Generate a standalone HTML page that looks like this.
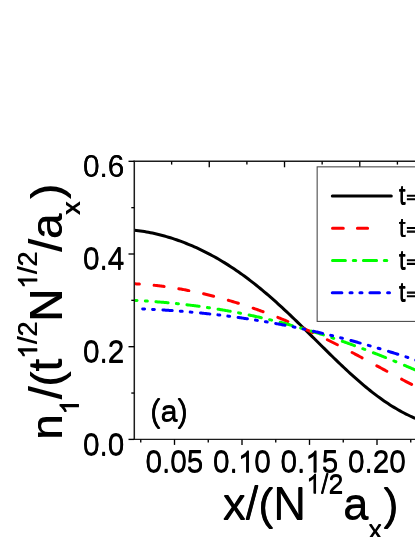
<!DOCTYPE html>
<html><head><meta charset="utf-8"><title>chart</title>
<style>html,body{margin:0;padding:0;background:#fff;}body{width:415px;height:537px;overflow:hidden;font-family:"Liberation Sans",sans-serif;}svg{display:block;will-change:transform}</style>
</head><body>
<svg width="415" height="537" viewBox="0 0 415 537">
<rect width="415" height="537" fill="#fff"/>
<g fill="none" stroke-width="3" stroke-linejoin="round">
<path d="M134.50 230.36 L136.50 230.55 L138.49 230.77 L140.49 231.02 L142.49 231.30 L144.48 231.60 L146.48 231.93 L148.48 232.29 L150.47 232.67 L152.47 233.08 L154.46 233.51 L156.46 233.97 L158.46 234.45 L160.45 234.95 L162.45 235.48 L164.45 236.03 L166.44 236.60 L168.44 237.19 L170.44 237.80 L172.43 238.44 L174.43 239.09 L176.43 239.77 L178.42 240.47 L180.42 241.19 L182.42 241.94 L184.41 242.70 L186.41 243.48 L188.40 244.29 L190.40 245.12 L192.40 245.97 L194.39 246.84 L196.39 247.74 L198.39 248.65 L200.38 249.59 L202.38 250.55 L204.38 251.54 L206.37 252.54 L208.37 253.57 L210.37 254.62 L212.36 255.70 L214.36 256.80 L216.36 257.92 L218.35 259.06 L220.35 260.23 L222.35 261.42 L224.34 262.64 L226.34 263.88 L228.33 265.14 L230.33 266.42 L232.33 267.73 L234.32 269.07 L236.32 270.42 L238.32 271.80 L240.31 273.21 L242.31 274.63 L244.31 276.08 L246.30 277.56 L248.30 279.05 L250.30 280.57 L252.29 282.11 L254.29 283.68 L256.29 285.26 L258.28 286.87 L260.28 288.50 L262.27 290.14 L264.27 291.81 L266.27 293.50 L268.26 295.21 L270.26 296.94 L272.26 298.69 L274.25 300.46 L276.25 302.24 L278.25 304.04 L280.24 305.86 L282.24 307.69 L284.24 309.54 L286.23 311.40 L288.23 313.27 L290.23 315.16 L292.22 317.06 L294.22 318.98 L296.21 320.90 L298.21 322.83 L300.21 324.77 L302.20 326.72 L304.20 328.68 L306.20 330.64 L308.19 332.61 L310.19 334.58 L312.19 336.56 L314.18 338.54 L316.18 340.52 L318.18 342.50 L320.17 344.47 L322.17 346.45 L324.17 348.42 L326.16 350.39 L328.16 352.36 L330.15 354.32 L332.15 356.27 L334.15 358.21 L336.14 360.14 L338.14 362.06 L340.14 363.97 L342.13 365.87 L344.13 367.76 L346.13 369.62 L348.12 371.48 L350.12 373.31 L352.12 375.13 L354.11 376.92 L356.11 378.70 L358.11 380.45 L360.10 382.19 L362.10 383.90 L364.10 385.58 L366.09 387.24 L368.09 388.87 L370.08 390.48 L372.08 392.06 L374.08 393.61 L376.07 395.13 L378.07 396.62 L380.07 398.08 L382.06 399.50 L384.06 400.90 L386.06 402.26 L388.05 403.59 L390.05 404.89 L392.05 406.15 L394.04 407.38 L396.04 408.58 L398.04 409.74 L400.03 410.87 L402.03 411.96 L404.02 413.02 L406.02 414.04 L408.02 415.03 L410.01 415.99 L412.01 416.92 L414.01 417.81 L416.00 418.67 L418.00 419.50" stroke="#000" stroke-linecap="butt"/>
<path d="M135.60 283.86 L136.54 283.91 L137.47 283.95 L138.41 284.00 L139.35 284.06 M154.10 285.28 L155.10 285.38 L156.10 285.49 L157.10 285.61 L158.10 285.72 L159.10 285.84 L160.10 285.96 L161.10 286.09 L162.10 286.21 L163.10 286.34 L164.10 286.48 M178.85 288.75 L179.85 288.92 L180.85 289.10 L181.85 289.28 L182.85 289.46 L183.85 289.64 L184.85 289.83 L185.85 290.02 L186.85 290.21 L187.85 290.41 L188.85 290.60 M203.60 293.79 L204.60 294.03 L205.60 294.26 L206.60 294.50 L207.60 294.75 L208.60 294.99 L209.60 295.24 L210.60 295.49 L211.60 295.74 L212.60 295.99 L213.60 296.25 M228.35 300.28 L229.35 300.58 L230.35 300.87 L231.35 301.17 L232.35 301.47 L233.35 301.77 L234.35 302.07 L235.35 302.37 L236.35 302.68 L237.35 302.99 L238.35 303.30 M253.10 308.17 L254.01 308.48 L254.92 308.80 L255.83 309.12 L256.74 309.44 L257.65 309.76 L258.55 310.09 L259.46 310.41 L260.37 310.74 L261.28 311.07 L262.19 311.40 L263.10 311.74 M277.85 317.41 L278.85 317.81 L279.85 318.21 L280.85 318.62 L281.85 319.03 L282.85 319.44 L283.85 319.85 L284.85 320.26 L285.85 320.68 L286.85 321.10 L287.85 321.52 M302.60 327.96 L303.60 328.42 L304.60 328.87 L305.60 329.33 L306.60 329.79 L307.60 330.25 L308.60 330.71 L309.60 331.17 L310.60 331.64 L311.60 332.11 L312.60 332.58 M327.35 339.72 L328.35 340.22 L329.35 340.72 L330.35 341.22 L331.35 341.72 L332.35 342.22 L333.35 342.73 L334.35 343.24 L335.35 343.75 L336.35 344.26 L337.35 344.77 M352.10 352.46 L353.10 352.99 L354.10 353.52 L355.10 354.06 L356.10 354.59 L357.10 355.12 L358.10 355.66 L359.10 356.20 L360.10 356.73 L361.10 357.27 L362.10 357.81 M376.85 365.81 L377.85 366.35 L378.85 366.90 L379.85 367.44 L380.85 367.99 L381.85 368.53 L382.85 369.08 L383.85 369.62 L384.85 370.16 L385.85 370.71 L386.85 371.25 M401.60 379.19 L402.60 379.72 L403.60 380.25 L404.60 380.78 L405.60 381.30 L406.60 381.83 L407.60 382.35 L408.60 382.87 L409.60 383.39 L410.60 383.91 L411.60 384.43" stroke="#f00" stroke-linecap="round"/>
<path d="M135.60 300.39 L136.31 300.43 L137.03 300.47 M145.33 300.98 L146.33 301.04 L147.33 301.11 M155.90 301.74 L156.84 301.81 L157.78 301.89 L158.72 301.96 L159.65 302.04 L160.59 302.12 L161.53 302.20 L162.47 302.28 L163.41 302.36 L164.35 302.44 L165.28 302.53 L166.22 302.61 L167.16 302.70 L168.10 302.79 M176.40 303.61 L177.40 303.72 L178.40 303.82 M186.97 304.79 L187.91 304.91 L188.85 305.02 L189.79 305.13 L190.72 305.25 L191.66 305.37 L192.60 305.49 L193.54 305.61 L194.48 305.73 L195.42 305.85 L196.35 305.97 L197.29 306.10 L198.23 306.23 L199.17 306.35 M207.47 307.54 L208.47 307.68 L209.47 307.84 M218.04 309.19 L218.98 309.34 L219.92 309.50 L220.86 309.66 L221.79 309.81 L222.73 309.97 L223.67 310.14 L224.61 310.30 L225.55 310.46 L226.49 310.63 L227.42 310.79 L228.36 310.96 L229.30 311.13 L230.24 311.30 M238.54 312.87 L239.54 313.06 L240.54 313.26 M249.11 315.02 L250.05 315.22 L250.99 315.42 L251.93 315.62 L252.86 315.82 L253.80 316.03 L254.74 316.23 L255.68 316.44 L256.62 316.65 L257.56 316.86 L258.49 317.07 L259.43 317.28 L260.37 317.49 L261.31 317.71 M269.61 319.67 L270.61 319.91 L271.61 320.16 M280.18 322.32 L281.12 322.57 L282.06 322.81 L283.00 323.06 L283.93 323.31 L284.87 323.56 L285.81 323.81 L286.75 324.06 L287.69 324.31 L288.63 324.57 L289.56 324.82 L290.50 325.08 L291.44 325.34 L292.38 325.60 M300.68 327.95 L301.68 328.24 L302.68 328.53 M311.25 331.10 L312.19 331.39 L313.13 331.67 L314.07 331.96 L315.00 332.26 L315.94 332.55 L316.88 332.84 L317.82 333.14 L318.76 333.43 L319.70 333.73 L320.63 334.03 L321.57 334.33 L322.51 334.63 L323.45 334.93 M331.75 337.66 L332.75 338.00 L333.75 338.34 M342.32 341.28 L343.26 341.61 L344.20 341.94 L345.14 342.27 L346.07 342.60 L347.01 342.93 L347.95 343.26 L348.89 343.60 L349.83 343.94 L350.77 344.27 L351.70 344.61 L352.64 344.95 L353.58 345.29 L354.52 345.64 M362.82 348.71 L363.82 349.09 L364.82 349.46 M373.39 352.75 L374.33 353.11 L375.27 353.48 L376.21 353.84 L377.14 354.21 L378.08 354.58 L379.02 354.95 L379.96 355.32 L380.90 355.69 L381.84 356.07 L382.77 356.44 L383.71 356.81 L384.65 357.19 L385.59 357.57 M393.89 360.94 L394.89 361.35 L395.89 361.76 M404.46 365.33 L405.40 365.73 L406.34 366.12 L407.28 366.52 L408.21 366.92 L409.15 367.32 L410.09 367.72 L411.03 368.12 L411.97 368.52 L412.91 368.92 L413.84 369.32 L414.78 369.73 L415.72 370.13 L416.66 370.53" stroke="#0f0" stroke-linecap="round"/>
<path d="M142.70 308.90 L143.65 308.94 L144.60 308.99 M152.60 309.39 L153.50 309.44 L154.40 309.49 M162.90 309.99 L163.83 310.05 L164.76 310.11 L165.69 310.17 L166.62 310.23 L167.55 310.30 L168.48 310.36 L169.41 310.42 L170.34 310.48 L171.27 310.55 L172.20 310.62 M180.30 311.22 L181.25 311.30 L182.20 311.37 M190.20 312.05 L191.10 312.13 L192.00 312.21 M200.50 313.01 L201.43 313.10 L202.36 313.19 L203.29 313.29 L204.22 313.38 L205.15 313.48 L206.08 313.57 L207.01 313.67 L207.94 313.77 L208.87 313.87 L209.80 313.97 M217.90 314.88 L218.85 314.99 L219.80 315.11 M227.80 316.09 L228.70 316.21 L229.60 316.32 M238.10 317.47 L239.03 317.60 L239.96 317.73 L240.89 317.86 L241.82 317.99 L242.75 318.13 L243.68 318.26 L244.61 318.40 L245.54 318.54 L246.47 318.67 L247.40 318.81 M255.50 320.07 L256.45 320.22 L257.40 320.37 M265.40 321.70 L266.30 321.85 L267.20 322.01 M275.70 323.52 L276.63 323.69 L277.56 323.86 L278.49 324.03 L279.42 324.21 L280.35 324.38 L281.28 324.56 L282.21 324.73 L283.14 324.91 L284.07 325.09 L285.00 325.27 M293.10 326.88 L294.05 327.07 L295.00 327.27 M303.00 328.95 L303.90 329.14 L304.80 329.33 M313.30 331.22 L314.23 331.43 L315.16 331.64 L316.09 331.86 L317.02 332.07 L317.95 332.28 L318.88 332.50 L319.81 332.72 L320.74 332.94 L321.67 333.16 L322.60 333.38 M330.70 335.34 L331.65 335.57 L332.60 335.81 M340.60 337.83 L341.50 338.06 L342.40 338.30 M350.90 340.54 L351.83 340.79 L352.76 341.04 L353.69 341.29 L354.62 341.55 L355.55 341.80 L356.48 342.06 L357.41 342.31 L358.34 342.57 L359.27 342.83 L360.20 343.09 M368.30 345.38 L369.25 345.65 L370.20 345.92 M378.20 348.27 L379.10 348.54 L380.00 348.80 M388.50 351.38 L389.43 351.66 L390.36 351.95 L391.29 352.24 L392.22 352.53 L393.15 352.81 L394.08 353.10 L395.01 353.39 L395.94 353.69 L396.87 353.98 L397.80 354.27 M405.90 356.86 L406.85 357.16 L407.80 357.47 M415.80 360.09 L416.70 360.39 L417.60 360.69" stroke="#00f" stroke-linecap="round"/>
</g>
<g stroke="#1c1c1c" fill="none">
<path d="M134.30 160.70 V440.00" stroke-width="1.5"/>
<path d="M133.60 439.40 H418 M133.60 161.30 H418" stroke-width="1.4"/>
</g>
<g stroke="#000" stroke-width="1.35" fill="none">
<path d="M134.30 439.40 h-5.80"/>
<path d="M134.30 393.05 h-3.00"/>
<path d="M134.30 346.70 h-5.80"/>
<path d="M134.30 300.35 h-3.00"/>
<path d="M134.30 254.00 h-5.80"/>
<path d="M134.30 207.65 h-3.00"/>
<path d="M134.30 161.30 h-5.80"/>
<path d="M140.75 439.40 v3.20"/>
<path d="M174.50 439.40 v5.50"/>
<path d="M208.25 439.40 v3.20"/>
<path d="M242.00 439.40 v5.50"/>
<path d="M275.75 439.40 v3.20"/>
<path d="M309.50 439.40 v5.50"/>
<path d="M343.25 439.40 v3.20"/>
<path d="M377.00 439.40 v5.50"/>
<path d="M410.75 439.40 v3.20"/>
<path d="M171.63 161.30 v3.30"/>
<path d="M209.26 161.30 v6.00"/>
<path d="M246.89 161.30 v3.30"/>
<path d="M284.52 161.30 v6.00"/>
<path d="M322.15 161.30 v3.30"/>
<path d="M359.78 161.30 v6.00"/>
<path d="M397.41 161.30 v3.30"/>
</g>
<rect x="317.15" y="166.85" width="110" height="154.55" fill="#fff" stroke="#444" stroke-width="1.05"/>
<g fill="none" stroke-width="3">
<path d="M332.3 196.05 H391.3" stroke="#000" stroke-linecap="round"/>
<path d="M332.5 228.2 H343.3 M357.4 228.2 H367.6" stroke="#f00" stroke-linecap="round"/>
<path d="M332.5 260.5 H345.4 M353.3 260.5 H355.7 M363.4 260.5 H376.6 M384.3 260.5 H386.8" stroke="#0f0" stroke-linecap="round"/>
<path d="M332.3 292.8 H341.9 M350 292.8 H352.1 M359.9 292.8 H362 M369.9 292.8 H379.5 M387.6 292.8 H389.5" stroke="#00f" stroke-linecap="round"/>
</g>
<g id="tx" font-family="Liberation Sans, sans-serif" fill="#000" transform="translate(0 -0.4)">
<text transform="translate(398.70 204.60) scale(1 1.080)" font-size="25.00">t</text>
<path d="M406.9 195.05 h14 v1.3 h-14 Z M406.9 198.65 h14 v1.3 h-14 Z"/>
<text transform="translate(398.70 236.90) scale(1 1.080)" font-size="25.00">t</text>
<path d="M406.9 227.35 h14 v1.3 h-14 Z M406.9 230.95 h14 v1.3 h-14 Z"/>
<text transform="translate(398.70 269.20) scale(1 1.080)" font-size="25.00">t</text>
<path d="M406.9 259.65 h14 v1.3 h-14 Z M406.9 263.25 h14 v1.3 h-14 Z"/>
<text transform="translate(398.70 301.50) scale(1 1.080)" font-size="25.00">t</text>
<path d="M406.9 291.95 h14 v1.3 h-14 Z M406.9 295.55 h14 v1.3 h-14 Z"/>
<text transform="translate(82.97 455.10) scale(1 1.040)" font-size="29.80">0</text>
<text transform="translate(99.55 455.10)" font-size="29.80">.</text>
<text transform="translate(107.83 455.10) scale(1 1.040)" font-size="29.80">0</text>
<text transform="translate(82.97 362.40) scale(1 1.040)" font-size="29.80">0</text>
<text transform="translate(99.55 362.40)" font-size="29.80">.</text>
<text transform="translate(107.83 362.40) scale(1 1.040)" font-size="29.80">2</text>
<text transform="translate(82.97 269.70) scale(1 1.040)" font-size="29.80">0</text>
<text transform="translate(99.55 269.70)" font-size="29.80">.</text>
<text transform="translate(107.83 269.70) scale(1 1.040)" font-size="29.80">4</text>
<text transform="translate(82.97 177.00) scale(1 1.040)" font-size="29.80">0</text>
<text transform="translate(99.55 177.00)" font-size="29.80">.</text>
<text transform="translate(107.83 177.00) scale(1 1.040)" font-size="29.80">6</text>
<text transform="translate(145.40 472.30) scale(1 1.040)" font-size="29.80">0</text>
<text transform="translate(161.97 472.30)" font-size="29.80">.</text>
<text transform="translate(170.25 472.30) scale(1 1.040)" font-size="29.80">05</text>
<text transform="translate(212.90 472.30) scale(1 1.040)" font-size="29.80">0</text>
<text transform="translate(229.47 472.30)" font-size="29.80">.</text>
<path transform="translate(237.75 472.30) scale(0.01455)" d="M763 0 L583 0 L583 -1147 Q518 -1085 412.5 -1023 Q307 -961 223 -930 L223 -1104 Q374 -1175 487 -1276 Q600 -1377 647 -1472 L763 -1472 Z"/>
<text transform="translate(254.33 472.30) scale(1 1.040)" font-size="29.80">0</text>
<text transform="translate(280.40 472.30) scale(1 1.040)" font-size="29.80">0</text>
<text transform="translate(296.97 472.30)" font-size="29.80">.</text>
<path transform="translate(305.25 472.30) scale(0.01455)" d="M763 0 L583 0 L583 -1147 Q518 -1085 412.5 -1023 Q307 -961 223 -930 L223 -1104 Q374 -1175 487 -1276 Q600 -1377 647 -1472 L763 -1472 Z"/>
<text transform="translate(321.83 472.30) scale(1 1.040)" font-size="29.80">5</text>
<text transform="translate(347.90 472.30) scale(1 1.040)" font-size="29.80">0</text>
<text transform="translate(364.47 472.30)" font-size="29.80">.</text>
<text transform="translate(372.75 472.30) scale(1 1.040)" font-size="29.80">20</text>
<text transform="translate(150.20 421.20) scale(1 0.990)" font-size="30.80">(</text>
<text transform="translate(160.46 421.20) scale(1 0.985)" font-size="30.80">a</text>
<text transform="translate(177.59 421.20) scale(1 0.990)" font-size="30.80">)</text>
<text transform="translate(223.00 519.40) scale(1 0.985)" font-size="45.30">x</text>
<text transform="translate(245.65 519.40)" font-size="45.30">/</text>
<text transform="translate(258.24 519.40) scale(1 0.990)" font-size="45.30">(</text>
<text transform="translate(273.32 519.40) scale(1 1.040)" font-size="45.30">N</text>
<path transform="translate(306.04 493.40) scale(0.01309)" d="M763 0 L583 0 L583 -1147 Q518 -1085 412.5 -1023 Q307 -961 223 -930 L223 -1104 Q374 -1175 487 -1276 Q600 -1377 647 -1472 L763 -1472 Z"/>
<text transform="translate(320.94 493.40)" font-size="26.80">/</text>
<text transform="translate(328.39 493.40) scale(1 1.040)" font-size="26.80">2</text>
<text transform="translate(343.29 519.40) scale(1 0.985)" font-size="45.30">a</text>
<text transform="translate(368.48 538.20) scale(1 0.985)" font-size="26.80">x</text>
<text transform="translate(383.38 519.40) scale(1 0.990)" font-size="45.30">)</text>
<text transform="translate(61.60 439.60) rotate(-90) scale(1 0.985)" font-size="45.30">n</text>
<path transform="translate(78.90 414.41) rotate(-90) scale(0.01309)" d="M763 0 L583 0 L583 -1147 Q518 -1085 412.5 -1023 Q307 -961 223 -930 L223 -1104 Q374 -1175 487 -1276 Q600 -1377 647 -1472 L763 -1472 Z"/>
<text transform="translate(61.60 399.00) rotate(-90)" font-size="45.30">/</text>
<text transform="translate(61.60 386.42) rotate(-90) scale(1 0.990)" font-size="45.30">(</text>
<text transform="translate(61.60 371.33) rotate(-90) scale(1 1.080)" font-size="45.30">t</text>
<path transform="translate(37.20 358.74) rotate(-90) scale(0.01309)" d="M763 0 L583 0 L583 -1147 Q518 -1085 412.5 -1023 Q307 -961 223 -930 L223 -1104 Q374 -1175 487 -1276 Q600 -1377 647 -1472 L763 -1472 Z"/>
<text transform="translate(37.20 343.84) rotate(-90)" font-size="26.80">/</text>
<text transform="translate(37.20 336.39) rotate(-90) scale(1 1.040)" font-size="26.80">2</text>
<text transform="translate(61.60 321.49) rotate(-90) scale(1 1.040)" font-size="45.30">N</text>
<path transform="translate(37.20 288.77) rotate(-90) scale(0.01309)" d="M763 0 L583 0 L583 -1147 Q518 -1085 412.5 -1023 Q307 -961 223 -930 L223 -1104 Q374 -1175 487 -1276 Q600 -1377 647 -1472 L763 -1472 Z"/>
<text transform="translate(37.20 273.87) rotate(-90)" font-size="26.80">/</text>
<text transform="translate(37.20 266.42) rotate(-90) scale(1 1.040)" font-size="26.80">2</text>
<text transform="translate(61.60 251.52) rotate(-90)" font-size="45.30">/</text>
<text transform="translate(61.60 238.93) rotate(-90) scale(1 0.985)" font-size="45.30">a</text>
<text transform="translate(79.90 214.74) rotate(-90) scale(1 0.985)" font-size="26.80">x</text>
<text transform="translate(61.60 198.84) rotate(-90) scale(1 0.990)" font-size="45.30">)</text>
</g>
<use href="#tx" y="0.8"/>
</svg>
</body></html>
